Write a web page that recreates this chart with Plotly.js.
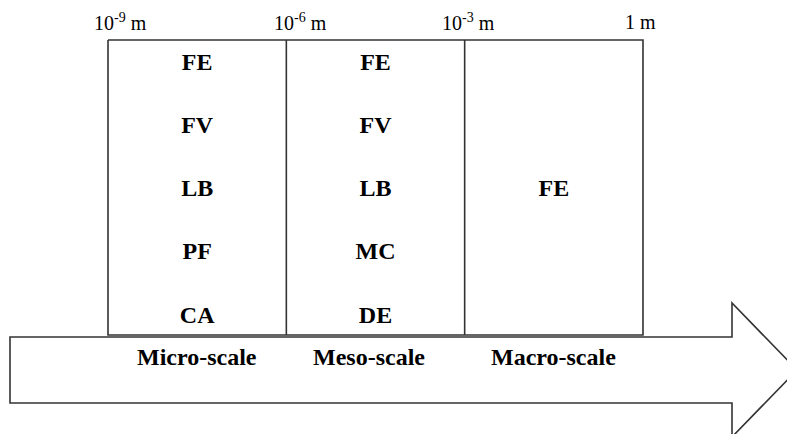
<!DOCTYPE html>
<html>
<head>
<meta charset="utf-8">
<script src="https://cdn.plot.ly/plotly-3.0.1.min.js"></script>
<style>html,body{margin:0;padding:0;background:#fff;}#chart{width:787px;height:434px;}</style>
</head>
<body>
<div id="chart"></div>
<script>
// ---- data ----
var boundaryExponents = [-9, -6, -3, 0];
var boundaryLabels = ['10<sup>-9</sup> m', '10<sup>-6</sup> m', '10<sup>-3</sup> m', '1 m'];
var scaleNames = ['Micro-scale', 'Meso-scale', 'Macro-scale'];
var microMethods = ['FE', 'FV', 'LB', 'PF', 'CA'];
var mesoMethods = ['FE', 'FV', 'LB', 'MC', 'DE'];
var macroMethods = ['FE'];

// ---- layout helpers ----
var W = 787, H = 434;
var SERIF = 'Liberation Serif, Times New Roman, serif';
var LINE = '#333333';
var ROW0 = 63.5, ROWSTEP = 63.25;          // pixel geometry of rows
function rowOf(py) { return (py - ROW0) / ROWSTEP; }
var rowTop = rowOf(40), rowBottom = rowOf(335);
function pow10(e) { return Math.pow(10, e); }
function mid(a, b) { return (a + b) / 2; }

var traces = [];
// box outline + dividers
var bx = [], by = [];
var lo = boundaryExponents[0], hi = boundaryExponents[boundaryExponents.length - 1];
bx.push(pow10(lo), pow10(hi), pow10(hi), pow10(lo), pow10(lo), null);
by.push(rowTop, rowTop, rowBottom, rowBottom, rowTop, null);
for (var i = 1; i < boundaryExponents.length - 1; i++) {
  bx.push(pow10(boundaryExponents[i]), pow10(boundaryExponents[i]), null);
  by.push(rowTop, rowBottom, null);
}
traces.push({type: 'scatter', mode: 'lines', x: bx, y: by, line: {color: LINE, width: 1.6}, hoverinfo: 'skip'});

var columns = [microMethods, mesoMethods, macroMethods];
columns.forEach(function (methods, c) {
  var cx = pow10(mid(boundaryExponents[c], boundaryExponents[c + 1]));
  var ys = methods.length === 1 ? [2] : methods.map(function (_, k) { return k; });
  traces.push({
    type: 'scatter', mode: 'text',
    x: methods.map(function () { return cx; }), y: ys, text: methods,
    textposition: 'middle center',
    textfont: {family: SERIF, size: 24, color: '#000', weight: 'bold'},
    hoverinfo: 'skip'
  });
});

var annotations = [];
var topShift = [12, 14, 4, -2];
boundaryExponents.forEach(function (e, i) {
  annotations.push({
    x: e, y: rowOf(22), xref: 'x', yref: 'y', text: boundaryLabels[i], showarrow: false,
    xanchor: 'center', yanchor: 'middle', xshift: topShift[i],
    font: {family: SERIF, size: 20, color: '#000'}
  });
});
var bottomShift = [0, -7, 0];
scaleNames.forEach(function (n, i) {
  annotations.push({
    x: mid(boundaryExponents[i], boundaryExponents[i + 1]), y: rowOf(357), xref: 'x', yref: 'y',
    text: '<b>' + n + '</b>', showarrow: false, xanchor: 'center', yanchor: 'middle',
    xshift: bottomShift[i],
    font: {family: SERIF, size: 24, color: '#000'}
  });
});

// arrow (decorative, pixel geometry -> paper)
var pts = [[10, 337], [732, 337], [732, 303], [797, 370], [732, 437], [732, 403], [10, 403]];
var path = pts.map(function (p, k) {
  return (k === 0 ? 'M' : 'L') + (p[0] / W).toFixed(5) + ',' + (1 - p[1] / H).toFixed(5);
}).join(' ') + ' Z';

var layout = {
  width: W, height: H,
  margin: {l: 0, r: 0, t: 0, b: 0, pad: 0},
  paper_bgcolor: '#fff', plot_bgcolor: '#fff',
  showlegend: false,
  xaxis: {type: 'log', range: [-10.817, 2.4226], visible: false, fixedrange: true},
  yaxis: {range: [rowOf(H), rowOf(0)], visible: false, fixedrange: true},
  annotations: annotations,
  shapes: [{type: 'path', xref: 'paper', yref: 'paper', path: path,
    line: {color: LINE, width: 1.6}, fillcolor: 'rgba(0,0,0,0)', layer: 'below'}]
};

Plotly.newPlot('chart', traces, layout, {staticPlot: true, displayModeBar: false});
</script>
</body>
</html>
